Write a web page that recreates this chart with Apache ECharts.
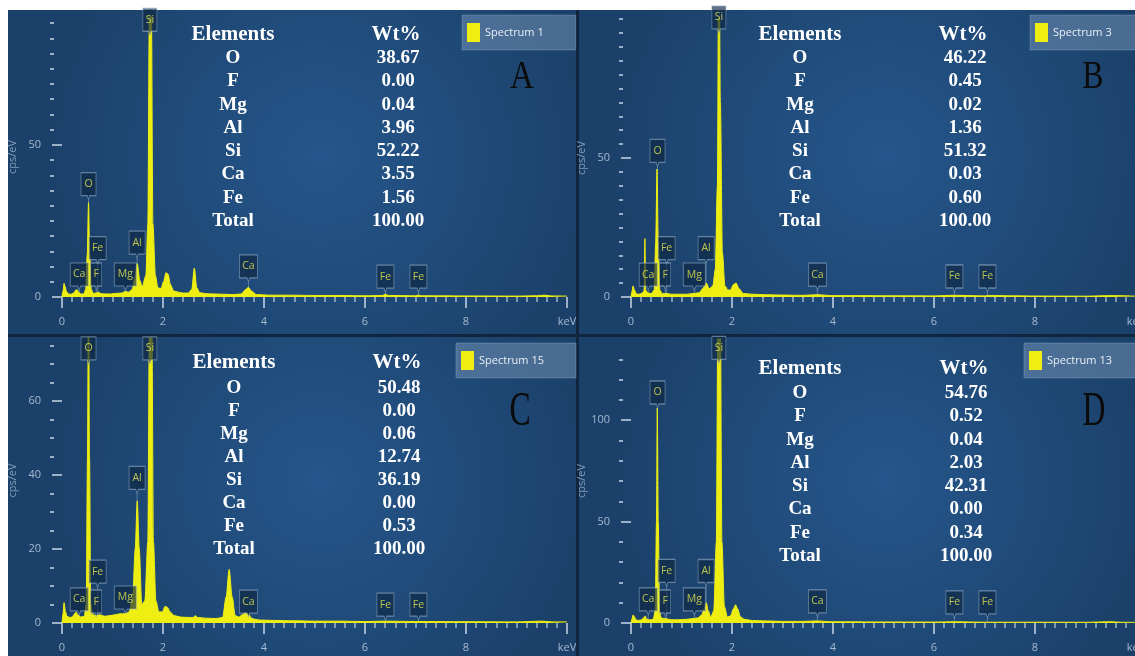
<!DOCTYPE html>
<html>
<head>
<meta charset="utf-8">
<title>EDS spectra</title>
<script src="https://cdn.jsdelivr.net/npm/echarts@6/dist/echarts.min.js"></script>
<style>
  html, body { margin: 0; padding: 0; background: #ffffff; }
  #chart { width: 1135px; height: 656px; }
</style>
</head>
<body>
<div id="chart"></div>
<script>
// ---- data -------------------------------------------------------------
const energyTicks = [0, 2, 4, 6, 8, 10];
const elements = ['O', 'F', 'Mg', 'Al', 'Si', 'Ca', 'Fe', 'Total'];

const wtA = ['38.67', '0.00', '0.04', '3.96', '52.22', '3.55', '1.56', '100.00'];
const wtB = ['46.22', '0.45', '0.02', '1.36', '51.32', '0.03', '0.60', '100.00'];
const wtC = ['50.48', '0.00', '0.06', '12.74', '36.19', '0.00', '0.53', '100.00'];
const wtD = ['54.76', '0.52', '0.04', '2.03', '42.31', '0.00', '0.34', '100.00'];

// y-axis tick values (cps/eV)
const yMajorA = [0, 50];
const yMinorA = [5, 10, 15, 20, 25, 30, 35, 40, 45, 55, 60, 65, 70, 75, 80, 85, 90];
const yMajorB = [0, 50];
const yMinorB = [5, 10, 15, 20, 25, 30, 35, 40, 45, 55, 60, 65, 70, 75, 80, 85, 90, 95, 100];
const yMajorC = [0, 20, 40, 60];
const yMinorC = [5, 10, 15, 25, 30, 35, 45, 50, 55, 65, 70, 75];
const yMajorD = [0, 50, 100];
const yMinorD = [10, 20, 30, 40, 60, 70, 80, 90, 110, 120, 130];

// spectra: [energy keV, cps/eV]
const specA = [[0.00,0],[0.02,2],[0.04,4.5],[0.06,3.5],[0.09,1.8],[0.13,1.0],[0.18,0.9],[0.23,1.3],[0.27,2.2],[0.30,2.4],[0.33,1.5],[0.38,1.0],[0.43,1.0],[0.47,2.5],[0.50,14],[0.525,31],[0.55,14],[0.58,2.5],[0.62,1.2],[0.68,1.3],[0.72,1.6],[0.78,1.1],[0.88,1.0],[0.98,1.0],[1.08,1.2],[1.18,1.3],[1.25,1.8],[1.32,1.6],[1.39,2.5],[1.44,6],[1.49,11],[1.54,5.5],[1.59,3.5],[1.66,7],[1.70,24],[1.73,95],[1.75,125],[1.77,95],[1.80,24],[1.85,7],[1.90,3],[1.96,2.8],[2.01,5],[2.06,8],[2.10,7.5],[2.15,4],[2.21,2],[2.30,1.6],[2.40,1.3],[2.50,1.3],[2.57,2.5],[2.62,9.5],[2.67,3],[2.73,1.4],[2.85,1.1],[3.00,1.0],[3.20,0.9],[3.40,0.8],[3.55,1.0],[3.64,2.5],[3.69,3.2],[3.75,2.0],[3.85,0.8],[4.10,0.6],[4.50,0.6],[5.00,0.5],[5.50,0.5],[6.00,0.4],[6.35,0.5],[6.40,0.9],[6.46,0.5],[7.00,0.4],[7.06,0.6],[7.12,0.4],[8.00,0.35],[9.00,0.3],[9.40,0.4],[9.55,0.6],[9.70,0.35],[10.0,0.3]];

const specB = [[0.00,0],[0.02,2],[0.04,4],[0.07,2.5],[0.10,1.2],[0.15,1.0],[0.20,1.2],[0.25,2],[0.26,2.5],[0.275,21],[0.29,2.5],[0.33,1.5],[0.40,1.2],[0.46,2.5],[0.49,20],[0.515,46],[0.54,20],[0.57,2.5],[0.62,1.2],[0.70,1.3],[0.80,1.0],[0.95,1.0],[1.10,1.0],[1.25,1.3],[1.35,1.5],[1.42,3],[1.49,5],[1.55,3],[1.62,4],[1.67,10],[1.71,40],[1.74,140],[1.77,70],[1.81,16],[1.86,4],[1.92,2.5],[1.97,2.5],[2.03,4.5],[2.08,5],[2.14,3],[2.22,1.3],[2.40,1.0],[2.70,0.8],[3.00,0.7],[3.40,0.6],[3.69,0.8],[4.00,0.5],[5.00,0.45],[6.00,0.4],[6.40,0.6],[7.00,0.4],[7.06,0.5],[8.00,0.35],[9.00,0.3],[9.55,0.5],[10.0,0.3]];

const specC = [[0.00,0],[0.02,2.5],[0.04,5.5],[0.07,3],[0.10,1.8],[0.15,1.5],[0.20,1.6],[0.25,2.5],[0.28,3],[0.31,2.2],[0.37,1.6],[0.44,1.8],[0.48,5],[0.505,45],[0.525,95],[0.545,45],[0.57,5],[0.61,2.2],[0.68,2],[0.75,2.2],[0.85,1.8],[0.95,2],[1.05,2.2],[1.15,2.5],[1.25,2.5],[1.33,3],[1.40,7],[1.45,20],[1.49,33],[1.53,20],[1.58,5],[1.64,6],[1.70,22],[1.73,80],[1.755,95],[1.78,80],[1.81,22],[1.86,6],[1.92,3],[1.99,3],[2.04,4.5],[2.09,4.2],[2.14,3],[2.22,2],[2.35,1.6],[2.50,1.5],[2.60,1.5],[2.64,2],[2.68,1.5],[2.85,1.3],[3.05,1.2],[3.18,1.5],[3.25,7],[3.31,14.5],[3.37,7],[3.43,2],[3.50,1.6],[3.58,2.3],[3.63,2.8],[3.69,2.4],[3.76,1.2],[3.90,0.8],[4.20,0.7],[4.60,0.6],[5.00,0.5],[5.50,0.5],[6.00,0.4],[6.40,0.5],[7.00,0.4],[8.00,0.35],[9.00,0.3],[9.50,0.5],[9.70,0.3],[10.0,0.3]];

const specD = [[0.00,0],[0.02,2],[0.04,4],[0.07,3],[0.10,1.5],[0.15,1.3],[0.20,1.5],[0.25,2.5],[0.28,3.5],[0.31,2],[0.37,1.5],[0.44,1.8],[0.48,6],[0.505,50],[0.52,106],[0.54,50],[0.565,6],[0.60,2.5],[0.66,2.2],[0.72,2],[0.80,1.6],[0.95,1.6],[1.10,1.8],[1.22,2.2],[1.32,2.5],[1.40,4],[1.45,7],[1.49,10],[1.53,6],[1.58,3],[1.64,6],[1.69,40],[1.72,150],[1.745,200],[1.77,150],[1.80,40],[1.85,8],[1.91,3],[1.97,3.5],[2.03,7],[2.07,9],[2.11,7],[2.17,3],[2.25,1.8],[2.40,1.2],[2.70,1.0],[3.00,0.8],[3.40,0.8],[3.69,1.0],[4.00,0.6],[5.00,0.5],[6.00,0.45],[6.40,0.6],[7.00,0.4],[8.00,0.4],[9.00,0.35],[9.50,0.6],[9.70,0.35],[10.0,0.3]];

// element line markers: [label, energy keV, marker height cps/eV]
const linesA = [['Ca',0.341,2.3],['F',0.677,2.3],['Fe',0.705,11],['O',0.525,32],['Mg',1.254,2.3],['Al',1.487,12.8],['Si',1.740,86],['Ca',3.692,5],['Fe',6.404,1.6],['Fe',7.058,1.6]];
const linesB = [['Ca',0.341,2.5],['F',0.677,2.5],['Fe',0.705,12],['O',0.525,47],['Mg',1.254,2.5],['Al',1.487,12],['Si',1.740,95],['Ca',3.692,2.5],['Fe',6.404,1.8],['Fe',7.058,1.8]];
const linesC = [['Ca',0.341,2.2],['F',0.677,1.6],['Fe',0.705,9.7],['O',0.525,70],['Mg',1.254,2.7],['Al',1.487,35],['Si',1.740,70],['Ca',3.692,1.6],['Fe',6.404,0.8],['Fe',7.058,0.8]];
const linesD = [['Ca',0.341,4],['F',0.677,3],['Fe',0.705,18],['O',0.525,106],['Mg',1.254,4],['Al',1.487,18],['Si',1.740,128],['Ca',3.692,3],['Fe',6.404,2.5],['Fe',7.058,2.5]];

// ---- layout & style ---------------------------------------------------
const FONT = '"Open Sans", "Noto Sans", sans-serif';
const SERIF = '"Liberation Serif", "DejaVu Serif", serif';
const YELLOW = '#eeee12';
const TICK = 'rgba(200,215,232,0.75)';
const LABEL = 'rgba(195,210,228,0.82)';
const boxWidth = { O: 15, F: 11, Mg: 22, Al: 16, Si: 14, Ca: 18, Fe: 17 };
const calloutPath = 'path://M0,0L20,0L20,23L11.6,23L10,27L8.4,23L0,23Z';

const panels = [
  { name: 'Spectrum 1',  spec: specA, lines: linesA, wt: wtA, yMajor: yMajorA, yMinor: yMinorA, yMax: 92,
    grid: { left: 62, top: 17, width: 505, height: 280 }, bg: [8, 10, 568, 324],
    table: { xEl: 233, xWt: 398, yHead: 35, y0: 58, dy: 23.3 }, letter: { t: 'A', x: 522, y: 78, size: 39, sx: 0.85 },
    legend: { left: 462, top: 15, padRight: 32 } },
  { name: 'Spectrum 3',  spec: specB, lines: linesB, wt: wtB, yMajor: yMajorB, yMinor: yMinorB, yMax: 100,
    grid: { left: 631, top: 19, width: 505, height: 278 }, bg: [579, 10, 556, 324],
    table: { xEl: 800, xWt: 965, yHead: 35, y0: 58, dy: 23.3 }, letter: { t: 'B', x: 1093, y: 78, size: 39, sx: 0.82 },
    legend: { left: 1030, top: 15, padRight: 32 } },
  { name: 'Spectrum 15', spec: specC, lines: linesC, wt: wtC, yMajor: yMajorC, yMinor: yMinorC, yMax: 77,
    grid: { left: 62, top: 338, width: 505, height: 285 }, bg: [8, 337, 568, 319],
    table: { xEl: 234, xWt: 399, yHead: 363, y0: 388, dy: 23 }, letter: { t: 'C', x: 520, y: 412, size: 48, sx: 0.66 },
    legend: { left: 456, top: 343, padRight: 32 } },
  { name: 'Spectrum 13', spec: specD, lines: linesD, wt: wtD, yMajor: yMajorD, yMinor: yMinorD, yMax: 140,
    grid: { left: 631, top: 339, width: 505, height: 284 }, bg: [579, 337, 556, 319],
    table: { xEl: 800, xWt: 966, yHead: 369, y0: 393, dy: 23.3 }, letter: { t: 'D', x: 1094, y: 412, size: 48, sx: 0.66 },
    legend: { left: 1024, top: 343, padRight: 32 } }
];

const grids = [], xAxes = [], yAxes = [], series = [], legends = [], graphics = [];

// dark frame behind the four panels
graphics.push({ type: 'rect', z: -20, shape: { x: 8, y: 10, width: 1127, height: 646 }, style: { fill: '#10263f' } });

panels.forEach((p, i) => {
  grids.push(Object.assign({ outerBoundsMode: 'none', containLabel: false }, p.grid));

  graphics.push({
    type: 'rect', z: -10,
    shape: { x: p.bg[0], y: p.bg[1], width: p.bg[2], height: p.bg[3] },
    style: { fill: { type: 'radial', x: 0.55, y: 0.45, r: 0.85,
      colorStops: [{ offset: 0, color: '#25568b' }, { offset: 1, color: '#1b416a' }] } }
  });

  xAxes.push({
    gridIndex: i, type: 'value', min: 0, max: 10, interval: 2, position: 'bottom', offset: 2,
    axisLine: { show: false },
    axisTick: { show: true, length: 11, lineStyle: { color: TICK, width: 2 } },
    minorTick: { show: true, splitNumber: 10, length: 5, lineStyle: { color: TICK, width: 1.5 } },
    splitLine: { show: false },
    axisLabel: { margin: 17, color: LABEL, fontSize: 11, fontFamily: FONT,
      customValues: energyTicks,
      formatter: v => (v === 10 ? 'keV' : String(v)) }
  });

  // major ticks with labels
  yAxes.push({
    gridIndex: i, type: 'value', min: 0, max: p.yMax, position: 'left', offset: 8,
    axisLine: { show: false },
    axisTick: { show: true, customValues: p.yMajor, length: 10, lineStyle: { color: TICK, width: 2 } },
    axisLabel: { customValues: p.yMajor, margin: 13, color: LABEL, fontSize: 11, fontFamily: FONT },
    splitLine: { show: false },
    name: 'cps/eV', nameLocation: 'middle', nameRotate: 90, nameGap: 36,
    nameTextStyle: { color: 'rgba(165,186,210,0.75)', fontSize: 11, fontFamily: FONT }
  });
  // minor ticks
  yAxes.push({
    gridIndex: i, type: 'value', min: 0, max: p.yMax, position: 'left', offset: 8,
    axisLine: { show: false },
    axisTick: { show: true, customValues: p.yMinor, length: 4, lineStyle: { color: TICK, width: 2 } },
    axisLabel: { show: false },
    splitLine: { show: false }
  });

  // thin guide from each line marker down to the baseline
  series.push({
    type: 'custom', xAxisIndex: i, yAxisIndex: 2 * i, z: 1, silent: true,
    data: p.lines.map(l => [l[1], l[2]]),
    renderItem: (params, api) => {
      const a = api.coord([api.value(0), 0]);
      const b = api.coord([api.value(0), api.value(1)]);
      return { type: 'line', shape: { x1: a[0], y1: a[1], x2: b[0], y2: b[1] },
        style: { stroke: 'rgba(160,186,212,0.45)', lineWidth: 1 } };
    }
  });

  series.push({
    type: 'line', name: p.name, xAxisIndex: i, yAxisIndex: 2 * i, z: 2, silent: true,
    data: p.spec, symbol: 'none', showSymbol: false,
    smooth: 0.3, smoothMonotone: 'x',
    lineStyle: { color: YELLOW, width: 1 },
    itemStyle: { color: YELLOW },
    areaStyle: { color: YELLOW, opacity: 1 }
  });

  series.push({
    type: 'scatter', xAxisIndex: i, yAxisIndex: 2 * i, z: 3, silent: true, clip: false,
    symbol: calloutPath, symbolOffset: [0, '-50%'],
    data: p.lines.map(l => ({ name: l[0], value: [l[1], l[2]], symbolSize: [boxWidth[l[0]], 27] })),
    itemStyle: { color: 'rgba(14,38,66,0.82)', borderColor: 'rgba(160,186,212,0.7)', borderWidth: 1 },
    label: { show: true, position: 'inside', offset: [0, -2], formatter: '{b}',
      color: '#e4e650', fontSize: 10.5, fontFamily: FONT }
  });

  legends.push({
    data: [p.name], left: p.legend.left, top: p.legend.top, orient: 'horizontal',
    icon: 'rect', itemWidth: 13, itemHeight: 19, selectedMode: false,
    padding: [8, p.legend.padRight, 8, 5],
    backgroundColor: 'rgba(130,160,192,0.45)', borderColor: 'rgba(170,195,220,0.3)', borderWidth: 1,
    itemStyle: { borderWidth: 0 },
    textStyle: { color: '#e8eef5', fontSize: 11, fontFamily: FONT }
  });

  // composition table
  const t = p.table;
  graphics.push({ type: 'text', z: 10, x: t.xEl, y: t.yHead,
    style: { text: 'Elements', font: 'bold 21px ' + SERIF, fill: '#ffffff', align: 'center', verticalAlign: 'middle' } });
  graphics.push({ type: 'text', z: 10, x: t.xWt - 2, y: t.yHead,
    style: { text: 'Wt%', font: 'bold 21px ' + SERIF, fill: '#ffffff', align: 'center', verticalAlign: 'middle' } });
  elements.forEach((el, k) => {
    const y = t.y0 + k * t.dy;
    graphics.push({ type: 'text', z: 10, x: t.xEl, y: y,
      style: { text: el, font: 'bold 19px ' + SERIF, fill: '#ffffff', align: 'center', verticalAlign: 'middle' } });
    graphics.push({ type: 'text', z: 10, x: t.xWt, y: y,
      style: { text: p.wt[k], font: 'bold 19px ' + SERIF, fill: '#ffffff', align: 'center', verticalAlign: 'middle' } });
  });

  // panel letter
  graphics.push({ type: 'text', z: 10, x: p.letter.x, y: p.letter.y, scaleX: p.letter.sx,
    style: { text: p.letter.t, font: p.letter.size + 'px ' + SERIF, fill: '#0b0b0b', align: 'center', verticalAlign: 'middle' } });
});

const chart = echarts.init(document.getElementById('chart'), null, { renderer: 'canvas' });
chart.setOption({
  backgroundColor: '#ffffff',
  animation: false,
  grid: grids,
  xAxis: xAxes,
  yAxis: yAxes,
  legend: legends,
  series: series,
  graphic: graphics
});
</script>
</body>
</html>
